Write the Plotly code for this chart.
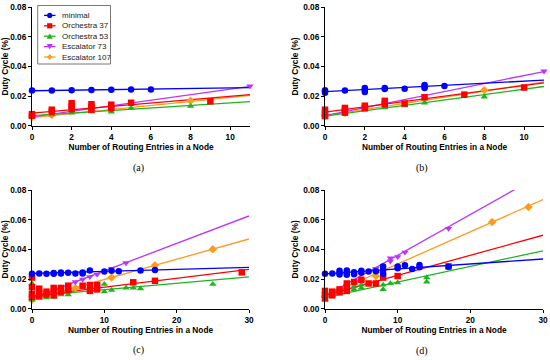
import plotly.graph_objects as go

W, H = 550, 360

SERIES = ["minimal", "Orchestra 37", "Orchestra 53", "Escalator 73", "Escalator 107"]
COLORS = ["#0000FF", "#FF0000", "#1DB51D", "#BB33FF", "#FF9A1F"]
SYMBOLS = ["circle", "square", "triangle-up", "triangle-down", "diamond"]
PANEL_LABELS = ["(a)", "(b)", "(c)", "(d)"]
X_TITLE = "Number of Routing Entries in a Node"
Y_TITLE = "Duty Cycle (%)"
X_MAX = [11, 11, 30, 30]
X_TICKS_AB = [0, 2, 4, 6, 8, 10]
X_TICKS_CD = [0, 10, 20, 30]
Y_TICKS = [0.0, 0.02, 0.04, 0.06, 0.08]

# ---------------- panel (a) ----------------
A_MIN_X = [0, 1, 2, 3, 4, 5, 6]
A_MIN_Y = [0.0238, 0.0238, 0.0240, 0.0241, 0.0243, 0.0245, 0.0245]
A_O37_X = [0, 0, 1, 1, 2, 2, 2, 3, 3, 3, 4, 4, 5, 9]
A_O37_Y = [0.0078, 0.0068, 0.0108, 0.0095, 0.0152, 0.0132, 0.0112, 0.0145, 0.0125, 0.0108, 0.0142, 0.0118, 0.0155, 0.0165]
A_O53_X = [0, 1, 2, 3, 4, 5, 8]
A_O53_Y = [0.0060, 0.0075, 0.0087, 0.0095, 0.0093, 0.0118, 0.0132]
A_E73_X = [0, 11]
A_E73_Y = [0.0065, 0.0268]
A_E107_X = [0, 1, 8]
A_E107_Y = [0.0058, 0.0072, 0.0168]
A_FIT_X = [0, 11]
A_FIT_MIN = [0.0236, 0.0257]
A_FIT_O37 = [0.0085, 0.0210]
A_FIT_O53 = [0.0068, 0.0163]
A_FIT_E73 = [0.0060, 0.0266]
A_FIT_E107 = [0.0055, 0.0205]

# ---------------- panel (b) ----------------
B_MIN_X = [0, 0, 0, 1, 2, 2, 2, 3, 3, 4, 5, 5, 5, 6]
B_MIN_Y = [0.0222, 0.0232, 0.0240, 0.0237, 0.0228, 0.0243, 0.0255, 0.0248, 0.0255, 0.0250, 0.0255, 0.0265, 0.0275, 0.0268]
B_O37_X = [0, 0, 0, 1, 1, 1, 2, 2, 3, 3, 4, 5, 7, 10]
B_O37_Y = [0.0065, 0.0085, 0.0108, 0.0088, 0.0105, 0.0120, 0.0118, 0.0135, 0.0145, 0.0168, 0.0150, 0.0192, 0.0210, 0.0258]
B_O53_X = [0, 1, 2, 3, 4, 5, 8]
B_O53_Y = [0.0060, 0.0088, 0.0108, 0.0122, 0.0135, 0.0155, 0.0195]
B_E73_X = [0, 11]
B_E73_Y = [0.0068, 0.0368]
B_E107_X = [0, 1, 8]
B_E107_Y = [0.0065, 0.0088, 0.0240]
B_FIT_X = [0, 11]
B_FIT_MIN = [0.0230, 0.0308]
B_FIT_O37 = [0.0092, 0.0290]
B_FIT_O53 = [0.0065, 0.0265]
B_FIT_E73 = [0.0068, 0.0366]
B_FIT_E107 = [0.0068, 0.0296]

# ---------------- panel (c) ----------------
C_MIN_X = [0, 1, 2, 3, 3, 4, 4, 5, 6, 7, 7, 8, 10, 11, 12, 15, 17]
C_MIN_Y = [0.0235, 0.0237, 0.0236, 0.0235, 0.0240, 0.0238, 0.0244, 0.0242, 0.0238, 0.0237, 0.0244, 0.0258, 0.0250, 0.0255, 0.0252, 0.0257, 0.0260]
C_O37_X = [0, 0, 0, 0, 1, 1, 1, 2, 2, 3, 3, 3, 4, 4, 5, 5, 7, 8, 8, 9, 9, 14, 17, 29]
C_O37_Y = [0.0210, 0.0145, 0.0100, 0.0080, 0.0135, 0.0105, 0.0085, 0.0115, 0.0095, 0.0140, 0.0115, 0.0090, 0.0140, 0.0115, 0.0155, 0.0125, 0.0155, 0.0160, 0.0120, 0.0160, 0.0130, 0.0178, 0.0188, 0.0245]
C_O53_X = [0, 0, 1, 2, 3, 4, 5, 10, 10, 11, 13, 14, 15, 25]
C_O53_Y = [0.0170, 0.0060, 0.0072, 0.0075, 0.0080, 0.0095, 0.0095, 0.0165, 0.0115, 0.0125, 0.0140, 0.0140, 0.0135, 0.0165]
C_E73_X = [0, 6, 7, 8, 9, 11, 13]
C_E73_Y = [0.0070, 0.0180, 0.0198, 0.0215, 0.0232, 0.0270, 0.0308]
C_E107_X = [0, 6, 11, 17, 25]
C_E107_Y = [0.0060, 0.0140, 0.0210, 0.0292, 0.0400]
C_FIT_X = [0, 30]
C_FIT_MIN = [0.0238, 0.0278]
C_FIT_O37 = [0.0085, 0.0265]
C_FIT_O53 = [0.0085, 0.0215]
C_FIT_E73 = [0.0070, 0.0625]
C_FIT_E107 = [0.0060, 0.0470]

# ---------------- panel (d) ----------------
D_MIN_X = [0, 1, 2, 2, 2, 3, 3, 3, 4, 4, 5, 5, 6, 7, 8, 8, 8, 10, 10, 11, 12, 13, 13, 17]
D_MIN_Y = [0.0235, 0.0238, 0.0230, 0.0243, 0.0255, 0.0228, 0.0243, 0.0258, 0.0232, 0.0245, 0.0243, 0.0255, 0.0250, 0.0252, 0.0235, 0.0262, 0.0285, 0.0272, 0.0285, 0.0293, 0.0268, 0.0280, 0.0295, 0.0283]
D_O37_X = [0, 0, 0, 1, 1, 2, 2, 3, 3, 3, 4, 5, 6, 7, 8, 10, 17]
D_O37_Y = [0.0070, 0.0095, 0.0120, 0.0090, 0.0115, 0.0110, 0.0130, 0.0120, 0.0145, 0.0170, 0.0180, 0.0195, 0.0170, 0.0170, 0.0210, 0.0220, 0.0285]
D_O53_X = [0, 1, 2, 3, 4, 4, 5, 5, 7, 8, 8, 9, 10, 14, 14]
D_O53_Y = [0.0060, 0.0090, 0.0110, 0.0125, 0.0130, 0.0150, 0.0140, 0.0160, 0.0160, 0.0130, 0.0160, 0.0170, 0.0175, 0.0180, 0.0210]
D_E73_X = [0, 7, 9, 9, 10, 11, 17]
D_E73_Y = [0.0080, 0.0270, 0.0320, 0.0340, 0.0350, 0.0380, 0.0540]
D_E107_X = [0, 5, 7, 23, 28]
D_E107_Y = [0.0080, 0.0190, 0.0220, 0.0585, 0.0685]
D_FIT_X = [0, 30]
D_FIT_MIN = [0.0235, 0.0335]
D_FIT_O37 = [0.0090, 0.0495]
D_FIT_O53 = [0.0075, 0.0390]
D_FIT_E73 = [0.0085, 0.0910]
D_FIT_E107 = [0.0085, 0.0735]

PANEL_POINTS = [
    [(A_MIN_X, A_MIN_Y), (A_O37_X, A_O37_Y), (A_O53_X, A_O53_Y), (A_E73_X, A_E73_Y), (A_E107_X, A_E107_Y)],
    [(B_MIN_X, B_MIN_Y), (B_O37_X, B_O37_Y), (B_O53_X, B_O53_Y), (B_E73_X, B_E73_Y), (B_E107_X, B_E107_Y)],
    [(C_MIN_X, C_MIN_Y), (C_O37_X, C_O37_Y), (C_O53_X, C_O53_Y), (C_E73_X, C_E73_Y), (C_E107_X, C_E107_Y)],
    [(D_MIN_X, D_MIN_Y), (D_O37_X, D_O37_Y), (D_O53_X, D_O53_Y), (D_E73_X, D_E73_Y), (D_E107_X, D_E107_Y)],
]
PANEL_FIT_X = [A_FIT_X, B_FIT_X, C_FIT_X, D_FIT_X]
PANEL_FITS = [
    [A_FIT_MIN, A_FIT_O37, A_FIT_O53, A_FIT_E73, A_FIT_E107],
    [B_FIT_MIN, B_FIT_O37, B_FIT_O53, B_FIT_E73, B_FIT_E107],
    [C_FIT_MIN, C_FIT_O37, C_FIT_O53, C_FIT_E73, C_FIT_E107],
    [D_FIT_MIN, D_FIT_O37, D_FIT_O53, D_FIT_E73, D_FIT_E107],
]

# plot-area rectangles in pixels (left, right, top, bottom)
RECTS = [(32, 250, 7.3, 125.7), (325, 544, 7.3, 125.7),
         (32, 249, 190, 308.7), (325, 543, 190, 308.7)]
LABEL_POS = [(138, 168), (421.7, 168), (138, 350), (421.7, 351)]

SANS = "Liberation Sans, Arial, sans-serif"
SERIF = "Liberation Serif, Times New Roman, serif"


def px(x):
    return x / W


def py(y):
    return 1 - y / H


fig = go.Figure()
draw_order = [4, 3, 2, 1, 0]
for p in range(4):
    xa = "x" if p == 0 else f"x{p + 1}"
    ya = "y" if p == 0 else f"y{p + 1}"
    for s in draw_order:
        fig.add_trace(go.Scatter(
            x=PANEL_FIT_X[p], y=PANEL_FITS[p][s], mode="lines",
            line=dict(color=COLORS[s], width=1.3), xaxis=xa, yaxis=ya,
            showlegend=False, hoverinfo="skip"))
    for s in draw_order:
        xs, ys = PANEL_POINTS[p][s]
        fig.add_trace(go.Scatter(
            x=xs, y=ys, mode="markers", name=SERIES[s],
            marker=dict(symbol=SYMBOLS[s], color=COLORS[s], size=6.5, line=dict(width=0)),
            xaxis=xa, yaxis=ya, showlegend=False, cliponaxis=False))

axis_common = dict(showline=True, linecolor="black", linewidth=1, ticks="outside",
                   ticklen=3, tickwidth=1, tickcolor="black", showgrid=False,
                   zeroline=False, automargin=False,
                   tickfont=dict(family=SANS, size=8.3, color="black", weight="bold"))
layout = {}
for p in range(4):
    l, r, t, b = RECTS[p]
    xkey = "xaxis" if p == 0 else f"xaxis{p + 1}"
    ykey = "yaxis" if p == 0 else f"yaxis{p + 1}"
    ya = "y" if p == 0 else f"y{p + 1}"
    xa = "x" if p == 0 else f"x{p + 1}"
    layout[xkey] = dict(axis_common, domain=[px(l), px(r)], anchor=ya,
                        range=[0, X_MAX[p]],
                        tickvals=X_TICKS_AB if p < 2 else X_TICKS_CD,
                        title=dict(text=X_TITLE, standoff=3,
                                   font=dict(family=SANS, size=8.3, color="black", weight="bold")))
    layout[ykey] = dict(axis_common, domain=[py(b), py(t)], anchor=xa,
                        range=[0, 0.08], tickvals=Y_TICKS, tickformat=".2f",
                        title=dict(text=Y_TITLE, standoff=3,
                                   font=dict(family=SANS, size=8.3, color="black", weight="bold")))

annotations = []
for p in range(4):
    lx, ly = LABEL_POS[p]
    annotations.append(dict(text=PANEL_LABELS[p], x=px(lx), y=py(ly), xref="paper", yref="paper",
                            showarrow=False, xanchor="center", yanchor="middle",
                            font=dict(family=SERIF, size=10, color="black")))

# legend (drawn inside panel a)
shapes = [dict(type="rect", xref="paper", yref="paper", x0=px(37.7), x1=px(110.5),
               y0=py(64), y1=py(5.5), line=dict(color="#555555", width=0.8),
               fillcolor="white", layer="above")]
ROW_Y = [15.4, 25.8, 36.2, 46.6, 57.0]
for s in range(5):
    yy = ROW_Y[s]
    c = COLORS[s]
    shapes.append(dict(type="line", xref="paper", yref="paper", x0=px(44), x1=px(55.5),
                       y0=py(yy), y1=py(yy), line=dict(color=c, width=1.3), layer="above"))
    cx, r = 49.7, 2.6
    if SYMBOLS[s] == "circle":
        shapes.append(dict(type="circle", xref="paper", yref="paper", x0=px(cx - r), x1=px(cx + r),
                           y0=py(yy + r), y1=py(yy - r), fillcolor=c, line=dict(width=0), layer="above"))
    else:
        if SYMBOLS[s] == "square":
            pts = [(cx - r, yy - r), (cx + r, yy - r), (cx + r, yy + r), (cx - r, yy + r)]
        elif SYMBOLS[s] == "triangle-up":
            pts = [(cx, yy - r - 0.4), (cx + r + 0.4, yy + r), (cx - r - 0.4, yy + r)]
        elif SYMBOLS[s] == "triangle-down":
            pts = [(cx, yy + r + 0.4), (cx + r + 0.4, yy - r), (cx - r - 0.4, yy - r)]
        else:
            pts = [(cx, yy - r - 0.3), (cx + r, yy), (cx, yy + r + 0.3), (cx - r, yy)]
        path = "M " + " L ".join(f"{px(a):.5f},{py(b):.5f}" for a, b in pts) + " Z"
        shapes.append(dict(type="path", xref="paper", yref="paper", path=path,
                           fillcolor=c, line=dict(width=0), layer="above"))
    annotations.append(dict(text=SERIES[s], x=px(59.5), y=py(yy), xref="paper", yref="paper",
                            showarrow=False, xanchor="left", yanchor="middle",
                            font=dict(family=SANS, size=8, color="#222222")))

fig.update_layout(
    width=W, height=H, margin=dict(l=0, r=0, t=0, b=0),
    paper_bgcolor="white", plot_bgcolor="white", showlegend=False,
    annotations=annotations, shapes=shapes, **layout)

fig.write_html("out.html", config={"displayModeBar": False},
               post_script="document.body.style.margin='0';")
